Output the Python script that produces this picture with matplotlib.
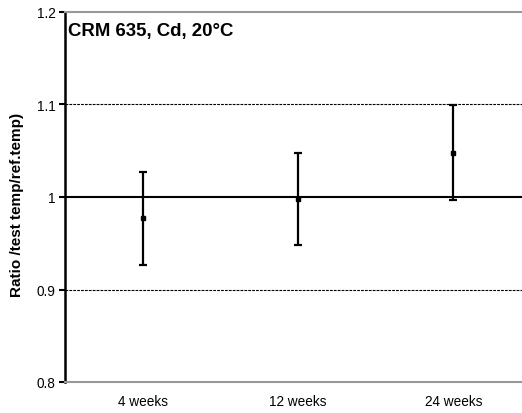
import matplotlib.pyplot as plt

plt.rcParams['font.family'] = ['Liberation Sans', 'DejaVu Sans']

categories = ['4 weeks', '12 weeks', '24 weeks']
ratios = [0.977, 0.998, 1.048]
errors = [0.05, 0.05, 0.051]

fig = plt.figure(figsize=(5.22, 4.14), dpi=100)
ax = fig.add_axes([65 / 522, 31 / 414, 466 / 522, 370 / 414])

x = list(range(len(categories)))
ax.set_xlim(-0.5, 2.5)
ax.set_ylim(0.8, 1.2)

# grid lines
for y in (0.9, 1.1):
    ax.axhline(y, color='black', lw=0.8, ls=(0, (2.5, 1)), zorder=1)
ax.axhline(1.0, color='black', lw=1.5, zorder=1)

ax.errorbar(x, ratios, yerr=errors, fmt='s', color='black', ms=3,
            ecolor='black', elinewidth=1.6, capsize=3, capthick=1.6, zorder=3)

ax.set_xticks(x)
ax.set_xticklabels(categories, fontsize=9.8)
ax.tick_params(axis='x', length=0, pad=9)
ax.set_yticks([0.8, 0.9, 1.0, 1.1, 1.2])
ax.set_yticklabels(['0.8', '0.9', '1', '1.1', '1.2'], fontsize=9.8)
ax.tick_params(axis='y', length=4, width=1.5, direction='out', pad=3)

ax.spines['left'].set_linewidth(1.8)
ax.spines['top'].set_color('#999999')
ax.spines['bottom'].set_color('#999999')
ax.spines['top'].set_linewidth(1.5)
ax.spines['bottom'].set_linewidth(1.5)
ax.spines['right'].set_visible(False)

ax.set_ylabel('Ratio /test temp/ref.temp)', fontsize=11, fontweight='bold')
ax.yaxis.set_label_coords(-0.088, 0.48)
ax.text(0.007, 0.95, 'CRM 635, Cd, 20°C', transform=ax.transAxes,
        fontsize=13.4, fontweight='bold', ha='left', va='center')

fig.savefig('out.png', dpi=100)
